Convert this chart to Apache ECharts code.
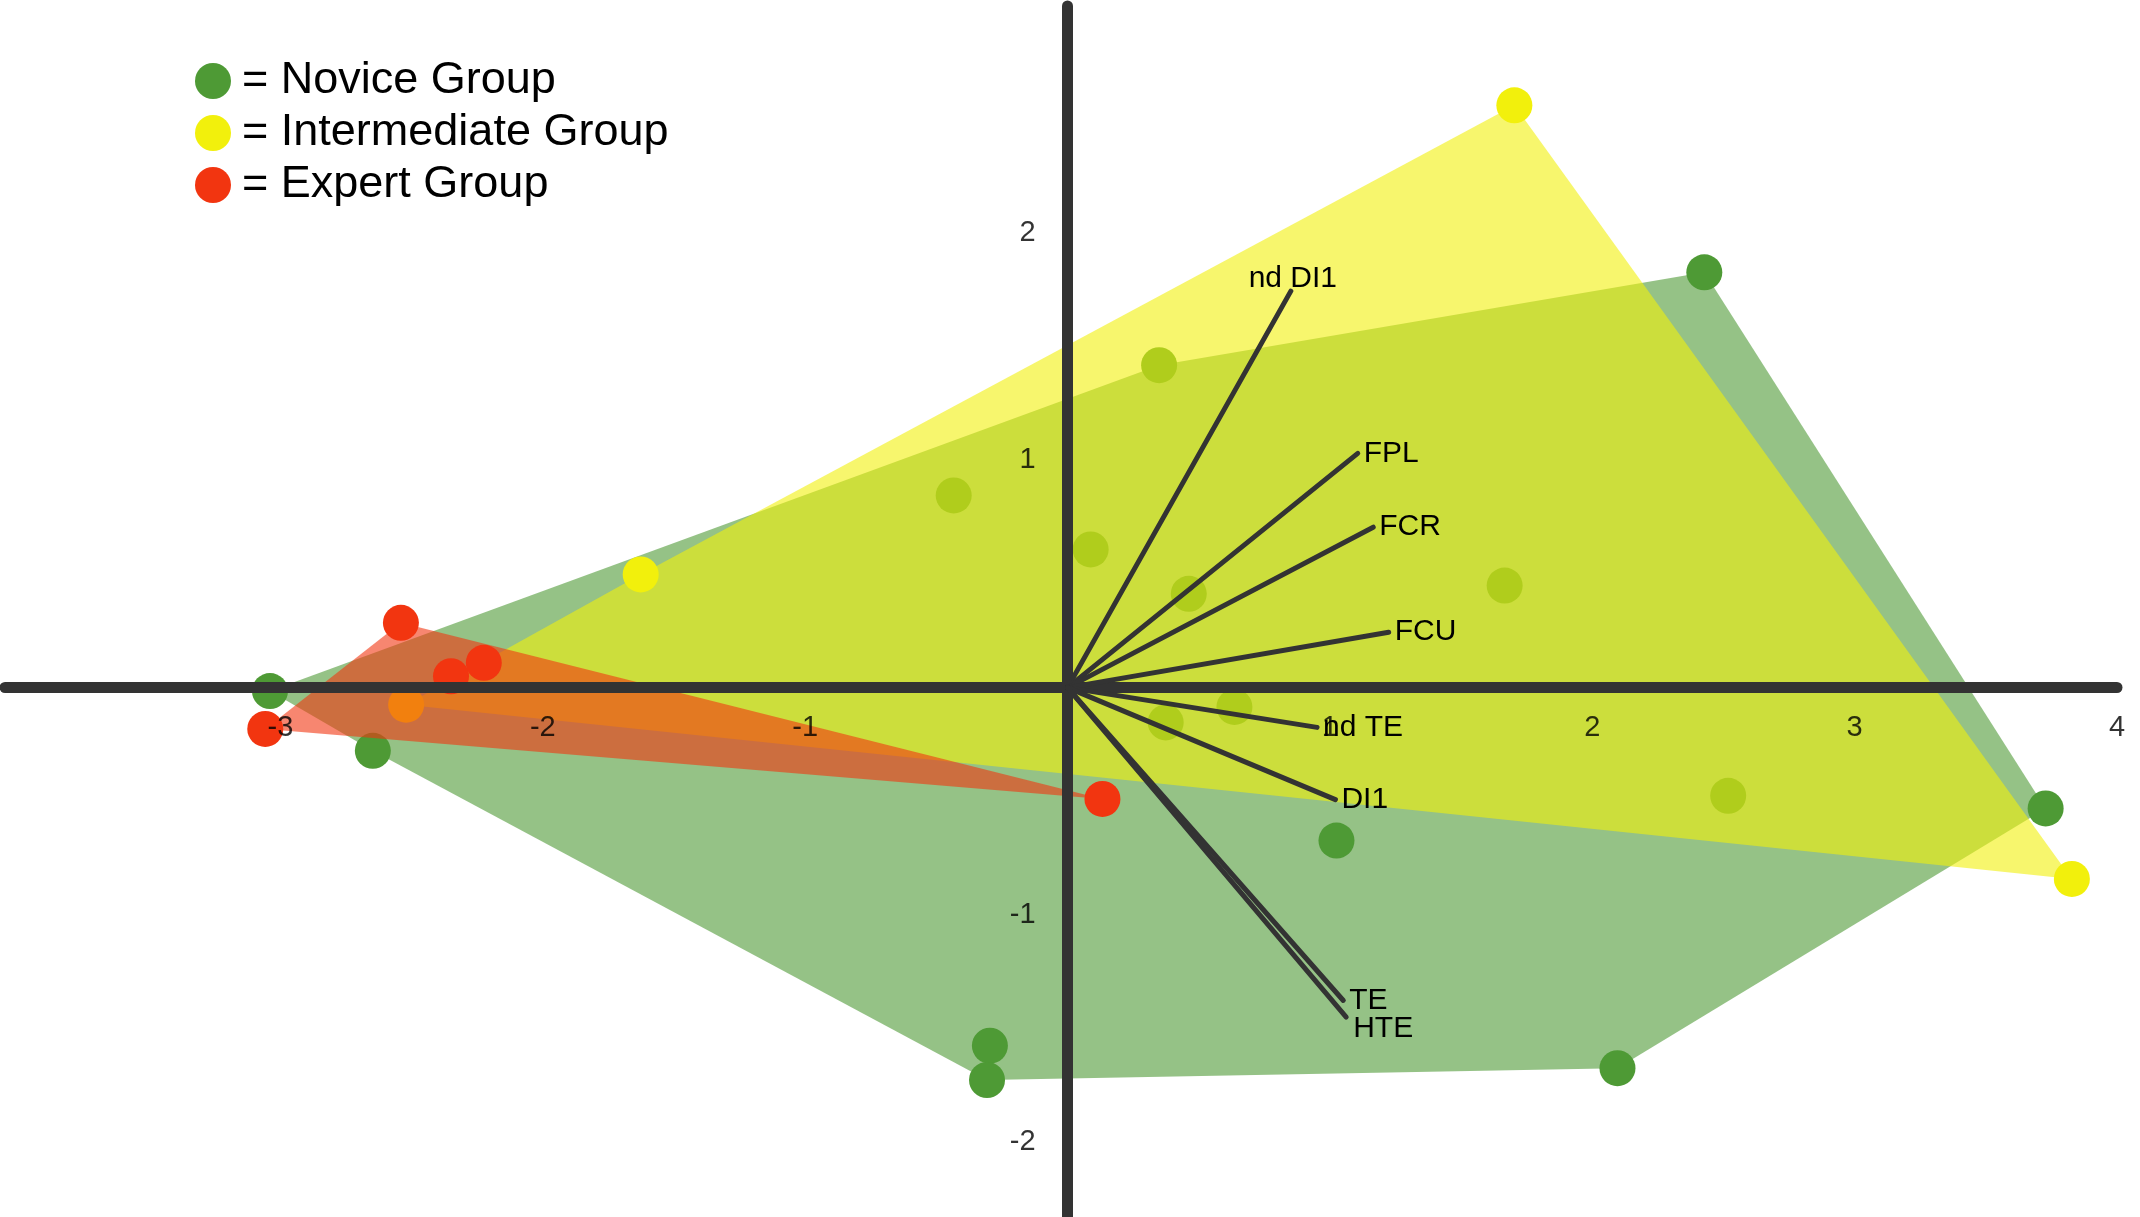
<!DOCTYPE html>
<html>
<head>
<meta charset="utf-8">
<title>Group biplot</title>
<script src="https://cdn.jsdelivr.net/npm/echarts@6/dist/echarts.min.js"></script>
<style>
  html, body { margin: 0; padding: 0; background: #ffffff; }
  #chart { width: 2140px; height: 1217px; }
</style>
</head>
<body>
<div id="chart"></div>
<script>
// ---- observations (component 1, component 2) ----
const novicePoints = [
  [-3.04, -0.015], [-2.648, -0.278], [-0.296, -1.576], [-0.307, -1.727],
  [1.025, -0.673], [2.096, -1.675], [3.728, -0.532], [2.427, 1.828],
  [0.349, 1.419], [-0.434, 0.846], [0.088, 0.608], [0.462, 0.413],
  [0.636, -0.085], [0.374, -0.153], [1.666, 0.449], [2.518, -0.476]
];
const intermediatePoints = [
  [-2.521, -0.075], [-1.627, 0.498], [1.703, 2.563], [3.828, -0.842]
];
const expertPoints = [
  [-3.058, -0.182], [-2.541, 0.285], [-2.35, 0.05], [-2.225, 0.109], [0.133, -0.49]
];

// ---- variable loadings drawn as rays from the origin ----
const loadingNames = ['nd DI1', 'FPL', 'FCR', 'FCU', 'nd TE', 'DI1', 'TE', 'HTE'];
const loadingX = [0.851, 1.106, 1.165, 1.224, 0.951, 1.021, 1.051, 1.062];
const loadingY = [1.745, 1.031, 0.706, 0.244, -0.175, -0.493, -1.377, -1.45];

// ---- tick labels on the two axes ----
const xTickValues = [-3, -2, -1, 1, 2, 3, 4];
const yTickValues = [-2, -1, 1, 2];

const groupNames = ['Novice Group', 'Intermediate Group', 'Expert Group'];
const groupColors = ['#4e9a35', '#f2f00c', '#f23510'];

const FONT = '"Liberation Sans", Arial, Helvetica, sans-serif';

// Monotone-chain convex hull of a point set
function convexHull(points) {
  const p = points.slice().sort((a, b) => a[0] - b[0] || a[1] - b[1]);
  if (p.length < 3) return p;
  const cross = (o, a, b) => (a[0] - o[0]) * (b[1] - o[1]) - (a[1] - o[1]) * (b[0] - o[0]);
  const lower = [];
  for (const pt of p) {
    while (lower.length >= 2 && cross(lower[lower.length - 2], lower[lower.length - 1], pt) <= 0) lower.pop();
    lower.push(pt);
  }
  const upper = [];
  for (let i = p.length - 1; i >= 0; i--) {
    const pt = p[i];
    while (upper.length >= 2 && cross(upper[upper.length - 2], upper[upper.length - 1], pt) <= 0) upper.pop();
    upper.push(pt);
  }
  upper.pop(); lower.pop();
  return lower.concat(upper);
}

function hullSeries(id, points, color, z) {
  const hull = convexHull(points);
  return {
    id: id,
    type: 'custom',
    coordinateSystem: 'cartesian2d',
    silent: true,
    z: z,
    data: [hull[0]],
    renderItem: function (params, api) {
      return {
        type: 'polygon',
        shape: { points: hull.map(function (pt) { return api.coord(pt); }) },
        style: { fill: color, opacity: 0.6 }
      };
    }
  };
}

function pointSeries(name, points, color, z) {
  return {
    name: name,
    type: 'scatter',
    z: z,
    symbol: 'circle',
    symbolSize: 36,
    silent: true,
    itemStyle: { color: color, opacity: 1 },
    data: points
  };
}

// where each loading label sits relative to the end of its ray
const labelPlacement = {
  'nd DI1': { align: 'center', verticalAlign: 'bottom', dx: 2, dy: 3 },
  'HTE': { align: 'left', verticalAlign: 'middle', dx: 7, dy: 12 }
};
const defaultPlacement = { align: 'left', verticalAlign: 'middle', dx: 6, dy: 0 };

const loadingData = loadingNames.map(function (n, i) { return [loadingX[i], loadingY[i], n]; });

const series = [
  hullSeries('hull-novice', novicePoints, groupColors[0], 1),
  pointSeries(groupNames[0], novicePoints, groupColors[0], 2),
  hullSeries('hull-intermediate', intermediatePoints, groupColors[1], 3),
  pointSeries(groupNames[1], intermediatePoints, groupColors[1], 4),
  hullSeries('hull-expert', expertPoints, groupColors[2], 5),
  pointSeries(groupNames[2], expertPoints, groupColors[2], 6),
  {
    id: 'loadings',
    type: 'custom',
    coordinateSystem: 'cartesian2d',
    silent: true,
    z: 8,
    data: loadingData,
    renderItem: function (params, api) {
      const origin = api.coord([0, 0]);
      const end = api.coord([api.value(0), api.value(1)]);
      const name = loadingData[params.dataIndex][2];
      const pl = labelPlacement[name] || defaultPlacement;
      return {
        type: 'group',
        children: [
          {
            type: 'line',
            shape: { x1: origin[0], y1: origin[1], x2: end[0], y2: end[1] },
            style: { stroke: '#333333', lineWidth: 5, lineCap: 'round' }
          },
          {
            type: 'text',
            x: end[0] + pl.dx,
            y: end[1] + pl.dy,
            style: {
              text: name,
              fill: '#000000',
              font: '30px ' + FONT,
              align: pl.align,
              verticalAlign: pl.verticalAlign
            }
          }
        ]
      };
    }
  },
  {
    id: 'x-ticks',
    type: 'scatter',
    z: 9,
    silent: true,
    symbolSize: 0,
    data: xTickValues.map(function (v) { return [v, 0]; }),
    label: {
      show: true,
      position: 'inside',
      offset: [0, 40],
      formatter: function (p) { return String(p.value[0]); },
      color: '#000000',
      fontSize: 29,
      fontFamily: FONT
    }
  },
  {
    id: 'y-ticks',
    type: 'scatter',
    z: 9,
    silent: true,
    symbolSize: 0,
    data: yTickValues.map(function (v) { return [0, v]; }),
    label: {
      show: true,
      position: 'left',
      distance: 32,
      formatter: function (p) { return String(p.value[1]); },
      color: '#000000',
      fontSize: 29,
      fontFamily: FONT
    }
  }
];

const chart = echarts.init(document.getElementById('chart'), null, { renderer: 'canvas' });
chart.setOption({
  animation: false,
  backgroundColor: '#ffffff',
  grid: { left: 5, right: 23, top: 6, bottom: 0, containLabel: false },
  xAxis: {
    type: 'value', min: -4.05, max: 4.0, z: 7,
    axisLine: { show: true, onZero: true, lineStyle: { color: '#333333', width: 11 } },
    axisTick: { show: false }, axisLabel: { show: false }, splitLine: { show: false }
  },
  yAxis: {
    type: 'value', min: -2.33, max: 3.0, z: 7,
    axisLine: { show: true, onZero: true, lineStyle: { color: '#333333', width: 11 } },
    axisTick: { show: false }, axisLabel: { show: false }, splitLine: { show: false }
  },
  legend: {
    data: groupNames,
    orient: 'vertical',
    left: 190,
    top: 53,
    icon: 'circle',
    itemWidth: 36,
    itemHeight: 36,
    itemGap: 6,
    selectedMode: false,
    formatter: '= {name}',
    textStyle: { color: '#000000', fontSize: 45, fontFamily: FONT, lineHeight: 46, padding: [0, 0, 0, 6] }
  },
  series: series
});
</script>
</body>
</html>
